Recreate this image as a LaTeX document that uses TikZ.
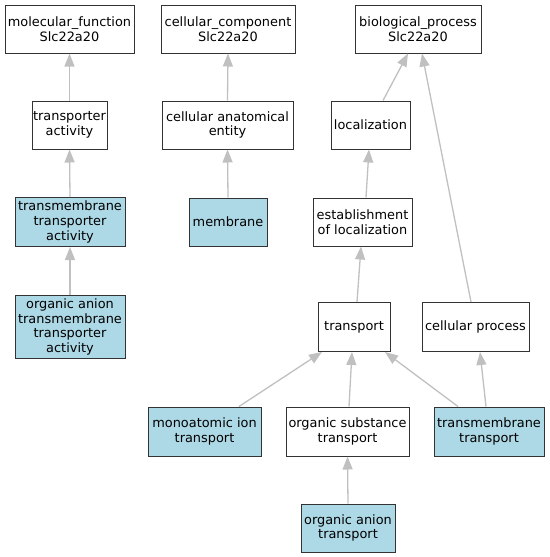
\documentclass[tikz,border=0pt]{standalone}
\usepackage{fontspec}
\setmainfont{DejaVu Sans}
\usetikzlibrary{arrows.meta}
\definecolor{lblue}{RGB}{173,216,230}
\definecolor{edgegray}{RGB}{192,192,192}
\definecolor{bordergray}{RGB}{51,51,51}
\tikzset{
  term/.style={draw=bordergray, line width=1pt, rectangle, inner sep=0pt, align=center,
    font=\fontsize{12.9}{14.8}\selectfont, fill=white},
  hit/.style={term, fill=lblue},
  edge/.style={draw=edgegray, line width=1.3pt, -{Triangle[length=13pt,width=10pt]}}
}
\begin{document}
\begin{tikzpicture}[x=1pt,y=-1pt]
\useasboundingbox (0,0) rectangle (549,557);
\node[term, minimum width=129pt, minimum height=48pt] (mf) at (69.5,29) {molecular\_function\\Slc22a20};
\node[term, minimum width=134pt, minimum height=48pt] (cc) at (228,29) {cellular\_component\\Slc22a20};
\node[term, minimum width=126pt, minimum height=48pt] (bp) at (418,29) {biological\_process\\Slc22a20};
\node[term, minimum width=75pt, minimum height=48pt] (ta) at (69.5,125) {transporter\\activity};
\node[term, minimum width=131pt, minimum height=48pt] (cae) at (227.5,125) {cellular anatomical\\entity};
\node[term, minimum width=79pt, minimum height=48pt] (loc) at (370.5,125) {localization};
\node[hit, minimum width=110pt, minimum height=49pt] (tta) at (70,222) {transmembrane\\transporter\\activity};
\node[hit, minimum width=78pt, minimum height=48pt] (mem) at (228,222) {membrane};
\node[term, minimum width=99pt, minimum height=48pt] (eol) at (362.5,222) {establishment\\of localization};
\node[hit, minimum width=110pt, minimum height=63pt] (oatta) at (70,327) {organic anion\\transmembrane\\transporter\\activity};
\node[term, minimum width=72pt, minimum height=49pt] (tr) at (354,327) {transport};
\node[term, minimum width=107pt, minimum height=49pt] (cp) at (475.5,327) {cellular process};
\node[hit, minimum width=113pt, minimum height=49pt] (mit) at (204.5,431.5) {monoatomic ion\\transport};
\node[term, minimum width=123pt, minimum height=49pt] (ost) at (347.5,431.5) {organic substance\\transport};
\node[hit, minimum width=110pt, minimum height=49pt] (tmt) at (489,431.5) {transmembrane\\transport};
\node[hit, minimum width=94pt, minimum height=48pt] (oat) at (348,528) {organic anion\\transport};

\draw[edge] (ta.north) -- (mf.south);
\draw[edge] (tta.north) -- (ta.south);
\draw[edge] (oatta.north) -- (tta.south);
\draw[edge] (cae.north) -- (cc.south);
\draw[edge] (mem.north) -- (cae.south);
\draw[edge] ([xshift=12.5pt]loc.north) -- ([xshift=-10pt]bp.south);
\draw[edge] ([xshift=3.5pt]eol.north) -- ([xshift=-1.5pt]loc.south);
\draw[edge] ([xshift=3pt]tr.north) -- ([xshift=-1.5pt]eol.south);
\draw[edge] ([xshift=-4.5pt]cp.north) -- ([xshift=4pt]bp.south);
\draw[edge] ([xshift=34.5pt]mit.north) -- ([xshift=-32pt]tr.south);
\draw[edge] ([xshift=1.5pt]ost.north) -- ([xshift=-2pt]tr.south);
\draw[edge] ([xshift=-31pt]tmt.north) -- ([xshift=31pt]tr.south);
\draw[edge] ([xshift=-3pt]tmt.north) -- ([xshift=4.5pt]cp.south);
\draw[edge] (oat.north) -- (ost.south);
\end{tikzpicture}
\end{document}
